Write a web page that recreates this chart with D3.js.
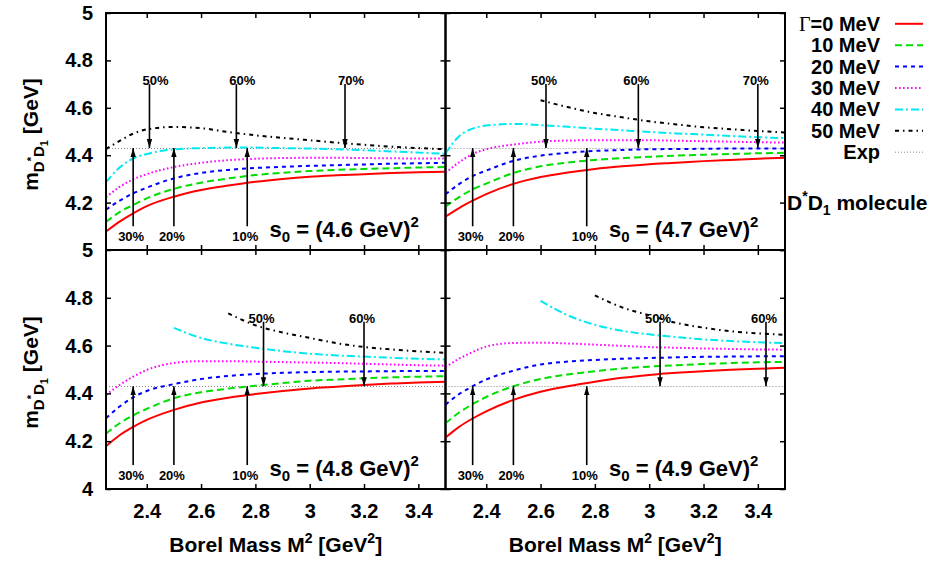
<!DOCTYPE html>
<html>
<head>
<meta charset="utf-8">
<script src="https://cdn.jsdelivr.net/npm/d3@7/dist/d3.min.js"></script>
<style>
body { margin: 0; background: #fff; }
text { font-family: "Liberation Sans", Arial, sans-serif; font-weight: bold; fill: #000; }
</style>
</head>
<body>
<svg width="934" height="564"></svg>
<script>
// Borel mass grid (GeV^2)
const xs = [2.25, 2.3, 2.35, 2.4, 2.5, 2.6, 2.7, 2.8, 2.9, 3.0, 3.1, 3.2, 3.3, 3.4, 3.5];

// masses (GeV) for Gamma = 0,10,20,30,40,50 MeV, one array per s0
const s46 = [
	[4.078, 4.12, 4.155, 4.185, 4.225, 4.253, 4.272, 4.288, 4.300, 4.309, 4.315, 4.320, 4.325, 4.328, 4.330],
	[4.118, 4.16, 4.19, 4.218, 4.258, 4.284, 4.302, 4.316, 4.326, 4.333, 4.338, 4.342, 4.345, 4.348, 4.350],
	[4.17, 4.208, 4.239, 4.263, 4.302, 4.325, 4.338, 4.346, 4.351, 4.355, 4.358, 4.361, 4.364, 4.366, 4.368],
	[4.223, 4.266, 4.298, 4.32, 4.35, 4.368, 4.379, 4.385, 4.388, 4.389, 4.389, 4.388, 4.387, 4.386, 4.386],
	[4.286, 4.348, 4.386, 4.405, 4.425, 4.43, 4.432, 4.432, 4.43, 4.428, 4.425, 4.421, 4.416, 4.411, 4.406],
	[4.426, 4.46, 4.491, 4.509, 4.519, 4.514, 4.498, 4.484, 4.473, 4.463, 4.453, 4.444, 4.436, 4.43, 4.425]
];
const s47 = [
	[4.141, 4.177, 4.208, 4.236, 4.279, 4.308, 4.327, 4.342, 4.353, 4.362, 4.368, 4.375, 4.38, 4.385, 4.389],
	[4.183, 4.223, 4.256, 4.28, 4.325, 4.353, 4.369, 4.38, 4.388, 4.393, 4.398, 4.402, 4.405, 4.408, 4.41],
	[4.235, 4.278, 4.312, 4.335, 4.376, 4.398, 4.41, 4.418, 4.422, 4.425, 4.426, 4.427, 4.428, 4.428, 4.428],
	[4.325, 4.37, 4.405, 4.425, 4.445, 4.457, 4.462, 4.463, 4.463, 4.463, 4.461, 4.459, 4.457, 4.455, 4.453],
	[4.407, 4.48, 4.512, 4.525, 4.532, 4.527, 4.52, 4.512, 4.505, 4.498, 4.492, 4.487, 4.481, 4.476, 4.472],
	[null, null, null, null, null, 4.632, 4.603, 4.578, 4.56, 4.543, 4.53, 4.518, 4.51, 4.502, 4.496]
];
const s48 = [
	[4.179, 4.225, 4.26, 4.289, 4.331, 4.362, 4.382, 4.397, 4.41, 4.421, 4.428, 4.435, 4.441, 4.446, 4.449],
	[4.231, 4.275, 4.308, 4.335, 4.38, 4.405, 4.42, 4.432, 4.443, 4.453, 4.458, 4.463, 4.467, 4.47, 4.472],
	[4.296, 4.345, 4.383, 4.41, 4.439, 4.46, 4.473, 4.481, 4.486, 4.489, 4.491, 4.492, 4.493, 4.494, 4.494],
	[4.394, 4.435, 4.47, 4.498, 4.527, 4.535, 4.535, 4.533, 4.531, 4.529, 4.527, 4.524, 4.521, 4.518, 4.516],
	[null, null, null, null, 4.674, 4.632, 4.608, 4.591, 4.577, 4.566, 4.559, 4.554, 4.549, 4.545, 4.542],
	[null, null, null, null, null, null, 4.735, 4.685, 4.655, 4.632, 4.61, 4.594, 4.584, 4.576, 4.57]
];
const s49 = [
	[4.215, 4.26, 4.295, 4.325, 4.373, 4.407, 4.43, 4.449, 4.465, 4.477, 4.486, 4.493, 4.499, 4.503, 4.507],
	[4.275, 4.32, 4.355, 4.385, 4.43, 4.46, 4.479, 4.493, 4.504, 4.512, 4.518, 4.523, 4.527, 4.53, 4.532],
	[4.353, 4.397, 4.43, 4.458, 4.495, 4.521, 4.533, 4.54, 4.545, 4.548, 4.551, 4.553, 4.554, 4.555, 4.556],
	[4.51, 4.545, 4.573, 4.596, 4.611, 4.612, 4.609, 4.604, 4.599, 4.594, 4.591, 4.588, 4.586, 4.584, 4.583],
	[null, null, null, null, null, 4.787, 4.727, 4.687, 4.662, 4.647, 4.636, 4.626, 4.619, 4.614, 4.611],
	[null, null, null, null, null, null, null, 4.81, 4.76, 4.727, 4.695, 4.675, 4.66, 4.651, 4.645]
];

const expMass = 4.43;
const s0Labels = ["4.6", "4.7", "4.8", "4.9"];
const legendLabels = ["\u0393=0 MeV", "10 MeV", "20 MeV", "30 MeV", "40 MeV", "50 MeV", "Exp"];

// arrows: up ones (pole contribution) are the same in every panel
const upArrowX = [2.35, 2.5, 2.77];
const upArrowLabels = ["30%", "20%", "10%"];
const downArrowX = [[2.41, 2.73, 3.13], [2.62, 2.96, 3.40], [2.83, 3.2], [3.04, 3.43]];
const downArrowLabels = [["50%", "60%", "70%"], ["50%", "60%", "70%"], ["50%", "60%"], ["50%", "60%"]];

const xTicks = [2.4, 2.6, 2.8, 3, 3.2, 3.4];
const yTicks = [4, 4.2, 4.4, 4.6, 4.8, 5];

const colors = ["#ff0000", "#00dd00", "#0000ff", "#ff00ff", "#00e8f0", "#000000"];
const dashes = [null, "7,4", "4,4", "1.6,2.4", "8,3,2,3", "4,4,1.5,4"];

const svg = d3.select("svg");
const colX = [106, 445.5, 785];
const rowY = [13, 250, 489];

// arrow head
svg.append("defs").append("marker")
	.attr("id", "head")
	.attr("viewBox", "0 0 10 6")
	.attr("refX", 10)
	.attr("refY", 3)
	.attr("markerWidth", 9)
	.attr("markerHeight", 6)
	.attr("markerUnits", "userSpaceOnUse")
	.attr("orient", "auto")
	.append("path")
	.attr("d", "M0,0 L10,3 L0,6 Z")
	.attr("fill", "#000");

const fmt = d3.format("");
const panelData = [s46, s47, s48, s49];

panelData.forEach(function(series, i) {
	const col = i % 2, row = Math.floor(i / 2);
	const x = d3.scaleLinear().domain([2.25, 3.5]).range([colX[col], colX[col + 1]]);
	const y = d3.scaleLinear().domain([4, 5]).range([rowY[row + 1], rowY[row]]);
	const g = svg.append("g");

	// experimental value
	g.append("line")
		.attr("x1", x(2.25)).attr("x2", x(3.5))
		.attr("y1", Math.round(y(expMass)) + 0.5).attr("y2", Math.round(y(expMass)) + 0.5)
		.attr("stroke", "#888")
		.attr("stroke-width", 1)
		.attr("stroke-dasharray", "1,2");

	const line = d3.line()
		.defined(d => d[1] != null)
		.x(d => x(d[0]))
		.y(d => y(d[1]))
		.curve(d3.curveMonotoneX);

	series.forEach(function(vals, k) {
		g.append("path")
			.datum(xs.map((m, j) => [m, vals[j]]))
			.attr("d", line)
			.attr("fill", "none")
			.attr("stroke", colors[k])
			.attr("stroke-width", 2)
			.attr("stroke-dasharray", dashes[k]);
	});

	// arrows from below
	upArrowX.forEach(function(m, k) {
		g.append("line")
			.attr("x1", x(m)).attr("x2", x(m))
			.attr("y1", y(4.1)).attr("y2", y(expMass))
			.attr("stroke", "#000").attr("stroke-width", 1.6)
			.attr("marker-end", "url(#head)");
		g.append("text")
			.attr("x", x(m) - 2)
			.attr("y", y(4.057) + 5)
			.attr("text-anchor", "middle")
			.attr("font-size", 13)
			.text(upArrowLabels[k]);
	});
	// arrows from above
	downArrowX[i].forEach(function(m, k) {
		g.append("line")
			.attr("x1", x(m)).attr("x2", x(m))
			.attr("y1", y(4.7)).attr("y2", y(expMass))
			.attr("stroke", "#000").attr("stroke-width", 1.6)
			.attr("marker-end", "url(#head)");
		g.append("text")
			.attr("x", x(m) + (i == 0 ? 6 : -2))
			.attr("y", y(4.716) + 5)
			.attr("text-anchor", "middle")
			.attr("font-size", 13)
			.text(downArrowLabels[i][k]);
	});

	// s0 label
	const s0 = g.append("text")
		.attr("x", x(2.25) + 163.5)
		.attr("y", y(4) - 13)
		.attr("font-size", 22);
	s0.append("tspan").text("s");
	s0.append("tspan").attr("font-size", 15).attr("dy", 5).text("0");
	s0.append("tspan").attr("dy", -5).text(" = (" + s0Labels[i] + " GeV)");
	s0.append("tspan").attr("font-size", 15).attr("dy", -10).text("2");

	// frame
	g.append("rect")
		.attr("x", x(2.25)).attr("y", y(5))
		.attr("width", x(3.5) - x(2.25))
		.attr("height", y(4) - y(5))
		.attr("fill", "none")
		.attr("stroke", "#000")
		.attr("stroke-width", 2);

	// ticks on all four sides, pointing inward
	const axes = [
		g.append("g").attr("transform", `translate(0,${y(4)})`)
			.call(d3.axisBottom(x).tickValues(xTicks).tickSize(-5).tickPadding(15)
				.tickFormat(row == 1 ? fmt : () => "")),
		g.append("g").attr("transform", `translate(0,${y(5)})`)
			.call(d3.axisTop(x).tickValues(xTicks).tickSize(-5).tickFormat(() => "")),
		g.append("g").attr("transform", `translate(${x(2.25)},0)`)
			.call(d3.axisLeft(y).tickValues(row == 0 ? yTicks.slice(1) : yTicks).tickSize(-5).tickPadding(13)
				.tickFormat(col == 0 ? fmt : () => "")),
		g.append("g").attr("transform", `translate(${x(3.5)},0)`)
			.call(d3.axisRight(y).tickValues(yTicks).tickSize(-5).tickFormat(() => ""))
	];
	axes.forEach(function(a) {
		a.attr("font-size", 20);
		a.select(".domain").remove();
		a.selectAll(".tick line").attr("stroke-width", 1.5);
	});

	// axis titles
	if (row == 1) {
		const xt = g.append("text")
			.attr("x", (x(2.25) + x(3.5)) / 2)
			.attr("y", 552)
			.attr("text-anchor", "middle")
			.attr("font-size", 21);
		xt.append("tspan").text("Borel Mass M");
		xt.append("tspan").attr("font-size", 14).attr("dy", -9).text("2");
		xt.append("tspan").attr("dy", 9).text(" [GeV");
		xt.append("tspan").attr("font-size", 14).attr("dy", -9).text("2");
		xt.append("tspan").attr("dy", 9).text("]");
	}
	if (col == 0) {
		const yt = g.append("text")
			.attr("transform", `translate(38,${(y(4) + y(5)) / 2 + 3}) rotate(-90)`)
			.attr("text-anchor", "middle")
			.attr("font-size", 21);
		yt.append("tspan").text("m");
		yt.append("tspan").attr("font-size", 15).attr("dy", 6).text("D");
		yt.append("tspan").attr("font-size", 11).attr("dy", -9).text("*");
		yt.append("tspan").attr("font-size", 15).attr("dy", 9).text("D");
		yt.append("tspan").attr("font-size", 11).attr("dy", 4).text("1");
		yt.append("tspan").attr("dy", -10).text(" [GeV]");
	}
});

// legend
const legend = svg.append("g");
legendLabels.forEach(function(lbl, i) {
	const ly = 23.8 + i * 21.4;
	const t = legend.append("text")
		.attr("x", 880)
		.attr("y", ly + 7)
		.attr("text-anchor", "end")
		.attr("font-size", 20);
	if (i == 0) {
		t.append("tspan")
			.style("font-family", "'Liberation Serif', 'DejaVu Serif', serif")
			.style("font-weight", "normal")
			.text(lbl.charAt(0));
		t.append("tspan").text(lbl.slice(1));
	} else {
		t.text(lbl);
	}
	const l = legend.append("line")
		.attr("x1", 895).attr("x2", 923)
		.attr("y1", ly).attr("y2", ly);
	if (i < colors.length) {
		l.attr("stroke", colors[i]).attr("stroke-width", 2).attr("stroke-dasharray", dashes[i]);
	} else {
		l.attr("stroke", "#888").attr("stroke-width", 1).attr("stroke-dasharray", "1,2");
	}
});

const mol = svg.append("text")
	.attr("x", 787)
	.attr("y", 209.5)
	.attr("font-size", 21);
mol.append("tspan").text("D");
mol.append("tspan").attr("font-size", 14).attr("dy", -9).text("*");
mol.append("tspan").attr("dy", 9).text("D");
mol.append("tspan").attr("font-size", 14).attr("dy", 5).text("1");
mol.append("tspan").attr("dy", -5).text(" molecule");
</script>
</body>
</html>
